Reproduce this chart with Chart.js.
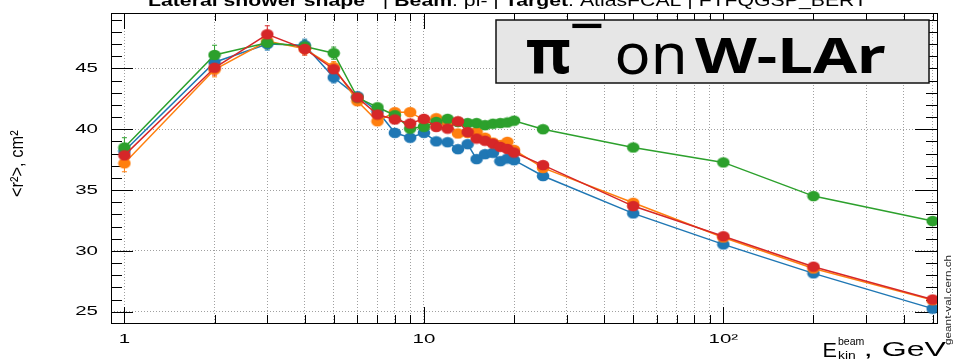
<!DOCTYPE html>
<html>
<head>
<meta charset="utf-8">
<script src="https://cdn.jsdelivr.net/npm/chart.js@4.4.1/dist/chart.umd.min.js"></script>
<style>
html, body { margin: 0; padding: 0; background: #fff; }
</style>
</head>
<body>
<canvas id="myChart" width="953" height="364"></canvas>
<script>
// beam kinetic energy, GeV
var energies = [1, 2, 3, 4, 5, 6, 7, 8, 9, 10, 11, 12, 13, 14, 15, 16, 17, 18, 19, 20, 25, 50, 100, 200, 500];

// <r^2>, cm^2 for each series
var blueR2   = [38.2, 45.5, 47.0, 46.9, 44.25, 42.7, 41.5, 39.7, 39.3, 39.7, 39.0, 38.93, 38.36, 38.77, 37.54, 37.95, 38.06, 37.37, 37.59, 37.45, 36.15, 33.08, 30.53, 28.15, 25.25];
var orangeR2 = [37.2, 44.9, 47.25, 46.6, 45.1, 42.3, 40.65, 41.4, 41.4, 40.75, 40.9, 40.5, 39.65, 39.7, 39.78, 39.3, 38.9, 38.7, 38.96, 38.3, 36.82, 33.95, 31.1, 28.55, 25.95];
var greenR2  = [38.5, 46.1, 47.1, 46.8, 46.25, 42.6, 41.8, 41.15, 40.05, 40.2, 40.6, 40.85, 40.6, 40.5, 40.5, 40.33, 40.45, 40.5, 40.55, 40.7, 40.0, 38.5, 37.27, 34.5, 32.45];
var redR2    = [37.85, 45.05, 47.8, 46.6, 44.93, 42.6, 41.2, 40.8, 40.47, 40.85, 40.19, 40.05, 40.65, 39.76, 39.23, 39.05, 38.82, 38.55, 38.38, 38.08, 37.05, 33.68, 31.2, 28.7, 26.0];

// error bars
var blueErr   = [0.6, 0.6, 0.5, 0.5, 0.45, 0.35, 0.3, 0.3, 0.3, 0.25, 0.25, 0.25, 0.2, 0.2, 0.2, 0.2, 0.2, 0.2, 0.2, 0.2, 0.15, 0.15, 0.1, 0.1, 0.1];
var orangeErr = [0.7, 0.6, 0.5, 0.5, 0.45, 0.35, 0.3, 0.3, 0.3, 0.25, 0.25, 0.25, 0.2, 0.2, 0.2, 0.2, 0.2, 0.2, 0.2, 0.2, 0.15, 0.15, 0.1, 0.1, 0.1];
var greenErr  = [0.8, 0.8, 0.5, 0.5, 0.5, 0.35, 0.3, 0.3, 0.3, 0.25, 0.25, 0.25, 0.2, 0.2, 0.2, 0.2, 0.2, 0.2, 0.2, 0.2, 0.15, 0.15, 0.1, 0.1, 0.1];
var redErr    = [0.6, 0.6, 0.7, 0.5, 0.45, 0.35, 0.3, 0.3, 0.3, 0.25, 0.25, 0.25, 0.2, 0.2, 0.2, 0.2, 0.2, 0.2, 0.2, 0.2, 0.15, 0.15, 0.1, 0.1, 0.1];

// axis ticks
var xTickVals = [1, 2, 3, 4, 5, 6, 7, 8, 9, 10, 20, 30, 40, 50, 60, 70, 80, 90, 100, 200, 300, 400, 500];
var xLabels = { 1: '1', 10: '10', 100: '10\u00b2' };
var yTickVals = [25, 26, 27, 28, 29, 30, 31, 32, 33, 34, 35, 36, 37, 38, 39, 40, 41, 42, 43, 44, 45, 46, 47, 48, 49];

var FONT = 'Liberation Sans';

function makeDot(color) {
    var c = document.createElement('canvas');
    c.width = 14; c.height = 12;
    var g = c.getContext('2d');
    g.fillStyle = color;
    g.beginPath();
    g.ellipse(7, 6, 6.3, 5.2, 0, 0, Math.PI * 2);
    g.fill();
    return c;
}

function toPoints(vals) {
    return energies.map(function (e, i) { return { x: e, y: vals[i] }; });
}

// fit ink box of a text into a rectangle
function inkFit(ctx, text, font, left, top, w, h) {
    ctx.save();
    ctx.font = font;
    ctx.textAlign = 'left';
    ctx.textBaseline = 'alphabetic';
    var m = ctx.measureText(text);
    var iw = m.actualBoundingBoxLeft + m.actualBoundingBoxRight;
    var ih = m.actualBoundingBoxAscent + m.actualBoundingBoxDescent;
    var sx = w / iw, sy = h / ih;
    ctx.translate(left + m.actualBoundingBoxLeft * sx, top + m.actualBoundingBoxAscent * sy);
    ctx.scale(sx, sy);
    ctx.fillText(text, 0, 0);
    ctx.restore();
}

// several pieces on one baseline, squeezed/stretched to a width
function drawParts(ctx, parts, left, baseline, width) {
    ctx.save();
    var total = 0;
    parts.forEach(function (p) { ctx.font = p.font; total += ctx.measureText(p.t).width; });
    var sx = width / total;
    ctx.translate(left, baseline);
    ctx.scale(sx, 1);
    ctx.textBaseline = 'alphabetic';
    ctx.textAlign = 'left';
    var x = 0;
    parts.forEach(function (p) {
        ctx.font = p.font;
        ctx.fillText(p.t, x, 0);
        x += ctx.measureText(p.t).width;
    });
    ctx.restore();
}

var labelSX = 1;
function stretchedLabel(ctx, text, x, y, align) {
    ctx.save();
    ctx.translate(x, y);
    ctx.scale(labelSX, 1);
    ctx.textAlign = align;
    ctx.textBaseline = 'middle';
    ctx.fillText(text, 0, 0);
    ctx.restore();
}

var errSets = [blueErr, orangeErr, greenErr, redErr];
var valSets = [blueR2, orangeR2, greenR2, redR2];

var rootFrame = {
    id: 'rootFrame',
    beforeDatasetsDraw: function (chart) {
        var ctx = chart.ctx;
        var a = chart.chartArea;
        var xs = chart.scales.x, ys = chart.scales.y;
        ctx.save();
        // error bars
        chart.data.datasets.forEach(function (ds, k) {
            ctx.strokeStyle = ds.borderColor;
            ctx.lineWidth = 1;
            energies.forEach(function (e, i) {
                var px = xs.getPixelForValue(e);
                var y1 = ys.getPixelForValue(valSets[k][i] - errSets[k][i]);
                var y2 = ys.getPixelForValue(valSets[k][i] + errSets[k][i]);
                ctx.beginPath();
                ctx.moveTo(px, y1); ctx.lineTo(px, y2);
                ctx.moveTo(px - 2.5, y1); ctx.lineTo(px + 2.5, y1);
                ctx.moveTo(px - 2.5, y2); ctx.lineTo(px + 2.5, y2);
                ctx.stroke();
            });
        });
        // frame
        ctx.strokeStyle = '#000';
        ctx.lineWidth = 1;
        ctx.strokeRect(Math.round(a.left) + 0.5, Math.round(a.top) + 0.5,
            Math.round(a.right) - Math.round(a.left), Math.round(a.bottom) - Math.round(a.top));
        ctx.beginPath();
        xs.ticks.forEach(function (t) {
            var px = Math.round(xs.getPixelForValue(t.value)) + 0.5;
            var major = xLabels[t.value] !== undefined;
            var len = major ? 16 : 8;
            ctx.moveTo(px, a.bottom); ctx.lineTo(px, a.bottom - len);
            ctx.moveTo(px, a.top); ctx.lineTo(px, a.top + len);
        });
        ys.ticks.forEach(function (t) {
            var py = Math.round(ys.getPixelForValue(t.value)) + 0.5;
            var major = t.value % 5 === 0;
            var len = major ? 22 : 11;
            ctx.moveTo(a.left, py); ctx.lineTo(a.left + len, py);
            ctx.moveTo(a.right, py); ctx.lineTo(a.right - len, py);
        });
        ctx.stroke();
        ctx.restore();
    },
    afterDraw: function (chart) {
        var ctx = chart.ctx;
        var xs = chart.scales.x, ys = chart.scales.y;
        ctx.save();
        ctx.fillStyle = '#000';

        // tick labels
        var labelFont = '13.5px "' + FONT + '"';
        ctx.font = labelFont;
        var m = ctx.measureText('45');
        labelSX = 22 / (m.actualBoundingBoxLeft + m.actualBoundingBoxRight);
        ys.ticks.forEach(function (t) {
            if (t.value % 5 === 0) {
                stretchedLabel(ctx, String(t.value), 98, ys.getPixelForValue(t.value), 'right');
            }
        });
        xs.ticks.forEach(function (t) {
            if (xLabels[t.value] !== undefined) {
                stretchedLabel(ctx, xLabels[t.value], xs.getPixelForValue(t.value), 339, 'center');
            }
        });

        // title (cut at top of image)
        var b = 'bold 17px "' + FONT + '"', n = '17px "' + FONT + '"';
        drawParts(ctx, [
            { t: 'Lateral shower shape', font: b },
            { t: '   | ', font: n },
            { t: 'Beam', font: b },
            { t: ': pi- | ', font: n },
            { t: 'Target', font: b },
            { t: ': AtlasFCAL | FTFQGSP_BERT', font: n }
        ], 148, 6, 719);

        // x axis title
        inkFit(ctx, 'E', '15px "' + FONT + '"', 824, 343, 13, 14);
        inkFit(ctx, 'beam', '10px "' + FONT + '"', 838, 336, 26, 9);
        inkFit(ctx, 'kin', '10px "' + FONT + '"', 838, 351, 17, 8);
        inkFit(ctx, ', GeV', '15px "' + FONT + '"', 866, 343, 80, 16);

        // y axis title, rotated
        ctx.save();
        ctx.translate(0, 197);
        ctx.rotate(-Math.PI / 2);
        inkFit(ctx, '<r\u00b2>, cm\u00b2', '14px "' + FONT + '"', 0, 10, 67, 15);
        ctx.restore();

        // watermark
        ctx.save();
        ctx.translate(0, 345);
        ctx.rotate(-Math.PI / 2);
        ctx.fillStyle = '#222';
        inkFit(ctx, 'geant-val.cern.ch', '11px "' + FONT + '"', 0, 944, 90, 9);
        ctx.restore();

        // label box
        ctx.fillStyle = '#e6e6e6';
        ctx.fillRect(496, 20, 433, 63);
        ctx.strokeStyle = '#111';
        ctx.lineWidth = 1.5;
        ctx.strokeRect(496, 20, 433, 63);
        ctx.fillStyle = '#000';
        inkFit(ctx, '\u03c0', 'bold 48px "Noto Sans"', 527, 39, 43, 34);
        inkFit(ctx, '\u2212', 'bold 48px "Noto Sans"', 572, 23, 30, 5);
        inkFit(ctx, 'on', '48px "Noto Sans"', 617, 43, 66, 31);
        inkFit(ctx, 'W-LAr', 'bold 48px "Noto Sans"', 695, 38, 190, 35);
        ctx.restore();
    }
};

var lineSets = [
    { label: 'blue', vals: blueR2, color: '#1f77b4', order: 4 },
    { label: 'orange', vals: orangeR2, color: '#ff7f0e', order: 3 },
    { label: 'green', vals: greenR2, color: '#2ca02c', order: 2 },
    { label: 'red', vals: redR2, color: '#d62728', order: 1 }
];

var ctx = document.getElementById('myChart').getContext('2d');
new Chart(ctx, {
    type: 'line',
    data: {
        datasets: lineSets.map(function (s) {
            return {
                label: s.label,
                data: toPoints(s.vals),
                borderColor: s.color,
                backgroundColor: s.color,
                borderWidth: 1.5,
                pointStyle: makeDot(s.color),
                pointRadius: 6,
                tension: 0,
                fill: false,
                order: s.order
            };
        })
    },
    options: {
        responsive: false,
        animation: false,
        layout: { padding: { left: 111, right: 16, top: 13, bottom: 41 } },
        plugins: {
            legend: { display: false },
            tooltip: { enabled: false },
            title: { display: false }
        },
        scales: {
            x: {
                type: 'logarithmic',
                min: 0.902,
                max: 517,
                afterBuildTicks: function (s) { s.ticks = xTickVals.map(function (v) { return { value: v }; }); },
                ticks: { display: false },
                grid: { color: '#a0a0a0', lineWidth: 1, drawTicks: false },
                border: { display: false, dash: [1, 2] }
            },
            y: {
                type: 'linear',
                min: 24.07,
                max: 49.55,
                afterBuildTicks: function (s) { s.ticks = yTickVals.map(function (v) { return { value: v }; }); },
                ticks: { display: false },
                grid: {
                    color: function (c) { return c.tick && c.tick.value % 5 === 0 ? '#a0a0a0' : 'rgba(0,0,0,0)'; },
                    lineWidth: 1,
                    drawTicks: false
                },
                border: { display: false, dash: [1, 2] }
            }
        }
    },
    plugins: [rootFrame]
});
</script>
</body>
</html>
